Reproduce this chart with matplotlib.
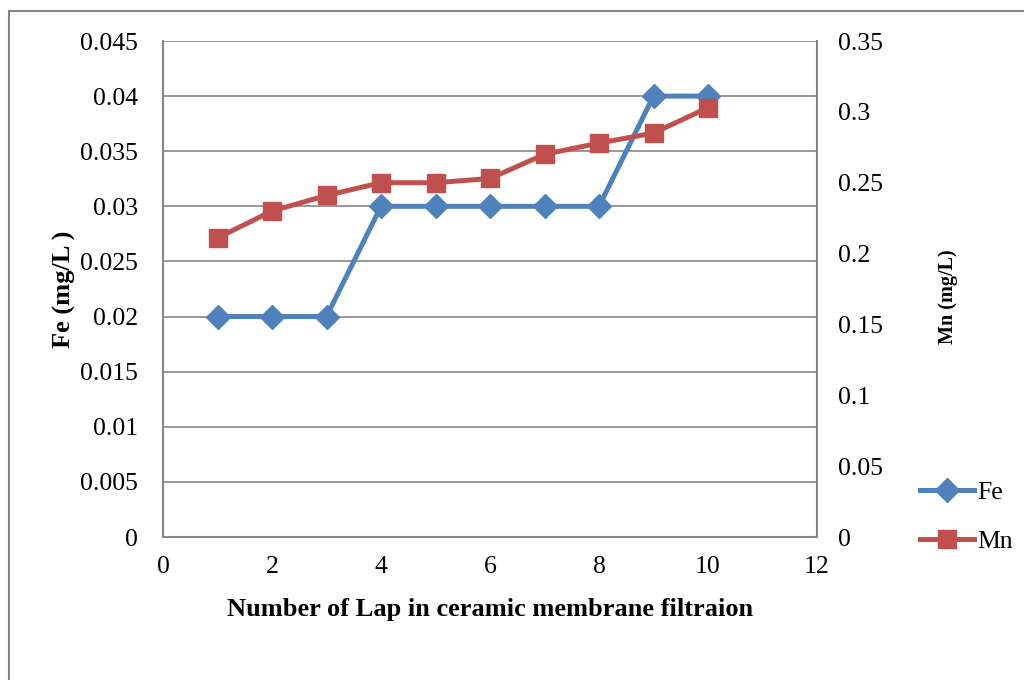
import numpy as np
import matplotlib
matplotlib.use('Agg')
import matplotlib.pyplot as plt
from matplotlib.lines import Line2D
from matplotlib.patches import Rectangle

plt.rcParams['font.family'] = ['Liberation Serif', 'DejaVu Serif']

# --- DATA ---
laps = [1, 2, 3, 4, 5, 6, 7, 8, 9, 10]
fe_values = [0.02, 0.02, 0.02, 0.03, 0.03, 0.03, 0.03, 0.03, 0.04, 0.04]
mn_values = [0.211, 0.230, 0.241, 0.250, 0.250, 0.253, 0.270, 0.278, 0.285, 0.303]
fe_ticks = [0, 0.005, 0.01, 0.015, 0.02, 0.025, 0.03, 0.035, 0.04, 0.045]
fe_tick_labels = ['0', '0.005', '0.01', '0.015', '0.02', '0.025', '0.03', '0.035', '0.04', '0.045']
mn_ticks = [0, 0.05, 0.1, 0.15, 0.2, 0.25, 0.3, 0.35]
mn_tick_labels = ['0', '0.05', '0.1', '0.15', '0.2', '0.25', '0.3', '0.35']
x_ticks = [0, 2, 4, 6, 8, 10, 12]

FE_COLOR = '#4F81BD'
MN_COLOR = '#C0504D'
AXIS_GRAY = '#868686'
TICK_SIZE = 18.5

fig = plt.figure(figsize=(10.24, 6.8), dpi=100)
fig.patch.set_facecolor('white')

# chart-area border (runs off the bottom/right edge)
fig.patches.append(Rectangle((9 / 1024, -0.05), 1.1, 1 - 11 / 680 + 0.05,
                             transform=fig.transFigure, fill=False,
                             edgecolor=AXIS_GRAY, linewidth=1.5))

ax = fig.add_axes([163 / 1024, 1 - 537 / 680, 654 / 1024, 496 / 680])
ax2 = ax.twinx()

ax.set_xlim(0, 12)
ax.set_ylim(0, 0.045)
ax2.set_ylim(0, 0.35)

ax.set_xticks(x_ticks)
ax.set_xticklabels([str(t) for t in x_ticks])
ax.set_yticks(fe_ticks)
ax.set_yticklabels(fe_tick_labels)
ax2.set_yticks(mn_ticks)
ax2.set_yticklabels(mn_tick_labels)

ax.grid(axis='y', color=AXIS_GRAY, linewidth=1.2)
ax.set_axisbelow(True)

for a in (ax, ax2):
    a.tick_params(length=0, labelsize=TICK_SIZE)
    for s in a.spines.values():
        s.set_visible(False)
ax.spines['left'].set_visible(True)
ax.spines['bottom'].set_visible(True)
ax2.spines['right'].set_visible(True)
for s in (ax.spines['left'], ax.spines['bottom'], ax2.spines['right']):
    s.set_color(AXIS_GRAY)
    s.set_linewidth(1.5)
ax.tick_params(axis='y', pad=18)
ax.tick_params(axis='x', pad=14)
ax2.tick_params(axis='y', pad=15)

ax.plot(laps, fe_values, color=FE_COLOR, linewidth=3.6, marker='D',
        markersize=12, zorder=3, clip_on=False)
ax2.plot(laps, mn_values, color=MN_COLOR, linewidth=3.6, marker='s',
         markersize=13, zorder=3, clip_on=False)

ax.set_xlabel('Number of Lap in ceramic membrane filtraion', fontsize=19,
              fontweight='bold', labelpad=14)
ax.set_ylabel('Fe (mg/L )', fontsize=19, fontweight='bold', labelpad=3)
fig.text(948 / 1024, 1 - 297 / 680, 'Mn (mg/L)', rotation=90, fontsize=14.5,
         fontweight='bold', ha='center', va='center')

handles = [
    Line2D([], [], color=FE_COLOR, linewidth=3.6, marker='D', markersize=12),
    Line2D([], [], color=MN_COLOR, linewidth=3.6, marker='s', markersize=13),
]
fig.legend(handles, ['Fe', 'Mn'], loc='center left',
           bbox_to_anchor=(910 / 1024, 1 - 517 / 680), frameon=False,
           fontsize=TICK_SIZE, handlelength=2.1, handletextpad=0.1,
           labelspacing=1.0, borderaxespad=0)

fig.savefig('out.png', dpi=100)
